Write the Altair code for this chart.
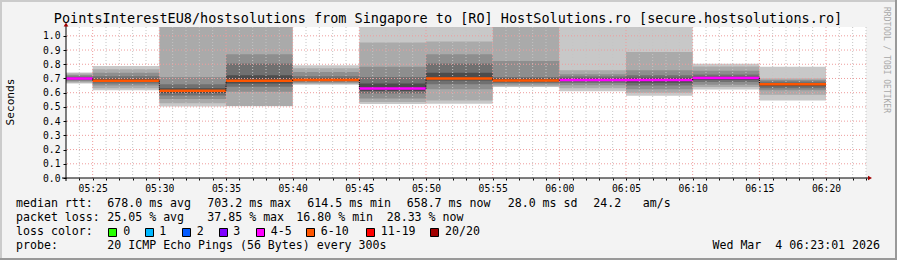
import altair as alt
import pandas as pd

# ---------------- data ----------------
# sample end times in minutes since midnight: 05:25 ... 06:20 (each covers the preceding 5 min)
times = [325, 330, 335, 340, 345, 350, 355, 360, 365, 370, 375, 380]
median = [0.700, 0.684, 0.614, 0.684, 0.690, 0.629, 0.700, 0.686, 0.690, 0.690, 0.703, 0.659]
loss_color = ["#ff00ff", "#ff5500", "#ff5500", "#ff5500", "#ff5500", "#ff00ff",
              "#ff5500", "#ff5500", "#ff00ff", "#ff00ff", "#ff00ff", "#ff5500"]

# smoke bands, outer (light) to inner (dark); values in seconds
band_lo = [
    [0.665, 0.617, 0.502, 0.504, 0.655, 0.520, 0.523, 0.640, 0.610, 0.578, 0.622, 0.545],
    [0.672, 0.632, 0.525, 0.506, 0.662, 0.535, 0.545, 0.645, 0.632, 0.600, 0.640, 0.585],
    [0.680, 0.650, 0.555, 0.606, 0.670, 0.560, 0.625, 0.658, 0.652, 0.625, 0.655, 0.618],
    [0.688, 0.664, 0.580, 0.641, 0.678, 0.594, 0.660, 0.668, 0.668, 0.650, 0.675, 0.632],
    [0.694, 0.675, 0.598, 0.665, 0.684, 0.612, 0.685, 0.678, 0.680, 0.670, 0.690, 0.645],
]
band_hi = [
    [0.742, 0.787, 0.720, 1.200, 0.793, 1.200, 1.200, 1.200, 1.200, 1.200, 0.803, 0.782],
    [0.735, 0.765, 1.200, 1.200, 0.772, 0.953, 0.960, 1.200, 0.757, 0.887, 0.785, 0.700],
    [0.725, 0.740, 0.711, 0.871, 0.745, 0.782, 0.870, 0.822, 0.730, 0.757, 0.755, 0.690],
    [0.714, 0.715, 0.660, 0.805, 0.715, 0.711, 0.805, 0.711, 0.714, 0.723, 0.728, 0.678],
    [0.707, 0.698, 0.632, 0.723, 0.700, 0.665, 0.740, 0.700, 0.702, 0.705, 0.712, 0.668],
]
band_shade = ["#c8c8c8", "#aaaaaa", "#8e8e8e", "#707070", "#4c4c4c"]

y_ticks = [0.0, 0.1, 0.2, 0.3, 0.4, 0.5, 0.6, 0.7, 0.8, 0.9, 1.0]
x_minutes = list(range(324, 384))

title_text = "PointsInterestEU8/hostsolutions from Singapore to [RO] HostSolutions.ro [secure.hostsolutions.ro]"
legend_labels = ["0", "1", "2", "3", "4-5", "6-10", "11-19", "20/20"]
legend_colors = ["#26ff00", "#00b8ff", "#0059ff", "#7e00ff", "#ff00ff", "#ff5500", "#ff0000", "#a10000"]

# ---------------- layout ----------------
PL, PT, PW, PH = 66, 27, 800, 151
YMAX = 1.062
FONT = "DejaVu Sans Mono"
NB = "\u00a0"

xs = alt.Scale(domain=[323, 383], nice=False, zero=False)
ys = alt.Scale(domain=[0, YMAX], nice=False, zero=True)

label_expr = ("datum.value % 5 == 0 ? (format(floor(datum.value/60),'02d') + ':' + "
              "format(datum.value % 60,'02d')) : ''")
x_axis = alt.Axis(values=x_minutes, labelExpr=label_expr, title=None, domain=False, grid=False,
                  tickSize=2, tickColor="#000000", labelFont=FONT, labelFontSize=9.7,
                  labelColor="#000000", labelPadding=3, labelOverlap=False, labelFlush=False)
y_axis = alt.Axis(values=y_ticks, format=".1f", title=None, domain=False, grid=False,
                  tickSize=3, tickColor="#000000", labelFont=FONT, labelFontSize=9.7,
                  labelColor="#000000", labelPadding=3)


def vx(a):  # absolute pixel -> view pixel
    return a - PL


def vy(a):
    return a - PT


# smoke
rows = []
for lvl in range(len(band_lo)):
    for i, t in enumerate(times):
        rows.append(dict(x0=t - 5, x1=t, lo=band_lo[lvl][i], hi=band_hi[lvl][i],
                         c=band_shade[lvl], lvl=lvl))
smoke_df = pd.DataFrame(rows)

smoke = alt.Chart(smoke_df).mark_rect(clip=True).encode(
    x=alt.X("x0:Q", scale=xs, axis=x_axis), x2="x1:Q",
    y=alt.Y("lo:Q", scale=ys, axis=y_axis), y2="hi:Q",
    color=alt.Color("c:N", scale=None),
    order=alt.Order("lvl:Q"),
)

# grid
minor_df = pd.DataFrame({"m": [m for m in x_minutes if m % 5 != 0]})
major_df = pd.DataFrame({"m": [m for m in x_minutes if m % 5 == 0]})
hgrid_df = pd.DataFrame({"v": y_ticks[1:]})

vminor = alt.Chart(minor_df).mark_rule(color="#c4c4c4", strokeWidth=1, strokeDash=[1, 2]).encode(
    x=alt.X("m:Q", scale=xs, axis=x_axis))
vmajor = alt.Chart(major_df).mark_rule(color="#ee9c9c", strokeWidth=1, strokeDash=[1, 2]).encode(
    x=alt.X("m:Q", scale=xs, axis=x_axis))
hgrid = alt.Chart(hgrid_df).mark_rule(color="#ee9c9c", strokeWidth=1, strokeDash=[1, 2]).encode(
    y=alt.Y("v:Q", scale=ys, axis=y_axis))

# median
med_df = pd.DataFrame({"x0": [t - 5 for t in times], "x1": times, "m": median, "c": loss_color})
med = alt.Chart(med_df).mark_rule(strokeWidth=2.5, clip=True).encode(
    x=alt.X("x0:Q", scale=xs, axis=x_axis), x2="x1:Q",
    y=alt.Y("m:Q", scale=ys, axis=y_axis),
    color=alt.Color("c:N", scale=None))

join_df = pd.DataFrame({"t": times[:-1], "a": median[:-1], "b": median[1:]})
joins = alt.Chart(join_df).mark_rule(color="#000000", strokeWidth=1, strokeDash=[1, 1]).encode(
    x=alt.X("t:Q", scale=xs, axis=x_axis),
    y=alt.Y("a:Q", scale=ys, axis=y_axis), y2="b:Q")

# axis lines + arrows
axl_df = pd.DataFrame({"x": [vx(62), vx(66)], "x2": [vx(868), vx(66)],
                       "y": [vy(178), vy(181)], "y2": [vy(178), vy(25)]})
axlines = alt.Chart(axl_df).mark_rule(color="#000000", strokeWidth=1).encode(
    x=alt.X("x:Q", scale=None, axis=None), x2="x2:Q",
    y=alt.Y("y:Q", scale=None, axis=None), y2="y2:Q")

arr_up = alt.Chart(pd.DataFrame({"x": [vx(66)], "y": [vy(24.5)]})).mark_point(
    shape="triangle-up", filled=True, size=22, color="#a00000", opacity=1).encode(
    x=alt.X("x:Q", scale=None, axis=None), y=alt.Y("y:Q", scale=None, axis=None))
arr_rt = alt.Chart(pd.DataFrame({"x": [vx(870)], "y": [vy(178)]})).mark_point(
    shape="triangle-right", filled=True, size=22, color="#a00000", opacity=1).encode(
    x=alt.X("x:Q", scale=None, axis=None), y=alt.Y("y:Q", scale=None, axis=None))

# frame (rrdtool 3D border)
frame_df = pd.DataFrame({
    "x": [vx(0), vx(0), vx(0), vx(895)],
    "x2": [vx(897), vx(2), vx(897), vx(897)],
    "y": [vy(0), vy(0), vy(258), vy(0)],
    "y2": [vy(2), vy(260), vy(260), vy(260)],
    "c": ["#cbcbcb", "#cbcbcb", "#999999", "#999999"],
})
frame = alt.Chart(frame_df).mark_rect().encode(
    x=alt.X("x:Q", scale=None, axis=None), x2="x2:Q",
    y=alt.Y("y:Q", scale=None, axis=None), y2="y2:Q",
    color=alt.Color("c:N", scale=None))


def text_layer(df, **kw):
    return alt.Chart(df).mark_text(font=FONT, baseline="middle", **kw).encode(
        x=alt.X("x:Q", scale=None, axis=None),
        y=alt.Y("y:Q", scale=None, axis=None),
        text="t:N")


title = text_layer(pd.DataFrame({"x": [vx(448)], "y": [vy(18.5)], "t": [title_text]}),
                   align="center", fontSize=13.5, color="#000000")

ytitle = text_layer(pd.DataFrame({"x": [vx(10.5)], "y": [vy(102)], "t": ["Seconds"]}),
                    align="center", fontSize=11.2, color="#000000", angle=270)

rrd = text_layer(pd.DataFrame({"x": [vx(886)], "y": [vy(60)], "t": ["RRDTOOL / TOBI OETIKER"]}),
                 align="center", fontSize=8, color="#a8a8a8", angle=90)

leg_items = [
    (16, 204, "median rtt:"), (107.3, 204, "678.0 ms avg"), (207.3, 204, "703.2 ms max"),
    (307.3, 204, "614.5 ms min"), (406.7, 204, "658.7 ms now"), (507.7, 204, "28.0 ms sd"),
    (593.3, 204, "24.2"), (642.7, 204, "am/s"),
    (16, 218, "packet loss:"), (107.3, 218, "25.05 % avg"), (207.3, 218, "37.85 % max"),
    (296.3, 218, "16.80 % min"), (386.7, 218, "28.33 % now"),
    (16, 232, "loss color:"),
    (16, 246, "probe:"), (107.3, 246, "20 ICMP Echo Pings (56 Bytes) every 300s"),
]
box_x = [108.5, 145.5, 182.5, 219.5, 256.5, 306.5, 366.5, 430.5]
lab_x = [123.3, 159.3, 196.7, 233.3, 270.7, 320.7, 380.7, 445.0]
for lx, lab in zip(lab_x, legend_labels):
    leg_items.append((lx, 232, lab))

leg_df = pd.DataFrame({"x": [vx(a) for a, _, _ in leg_items],
                       "y": [vy(b) for _, b, _ in leg_items],
                       "t": [c for _, _, c in leg_items]})
legend_text = text_layer(leg_df, align="left", fontSize=11.6, color="#000000")

date_text = text_layer(pd.DataFrame({"x": [vx(880)], "y": [vy(246)],
                                     "t": ["Wed Mar" + NB + NB + "4 06:23:01 2026"]}),
                       align="right", fontSize=11.6, color="#000000")

box_df = pd.DataFrame({"x": [vx(a) for a in box_x], "x2": [vx(a + 8) for a in box_x],
                       "y": [vy(228.5)] * 8, "y2": [vy(236.5)] * 8, "c": legend_colors})
boxes = alt.Chart(box_df).mark_rect(stroke="#000000", strokeWidth=1).encode(
    x=alt.X("x:Q", scale=None, axis=None), x2="x2:Q",
    y=alt.Y("y:Q", scale=None, axis=None), y2="y2:Q",
    color=alt.Color("c:N", scale=None))

chart = alt.layer(
    smoke, vminor, vmajor, hgrid, med, joins, axlines, arr_up, arr_rt,
    frame, title, ytitle, rrd, legend_text, date_text, boxes,
).properties(
    width=PW, height=PH,
    padding={"left": PL, "top": PT, "right": 897 - PL - PW, "bottom": 260 - PT - PH},
    autosize=alt.AutoSizeParams(type="none"),
    background="#f3f3f3",
).configure_view(stroke=None, fill="#ffffff")

chart.save("out.html", embed_options={"renderer": "svg", "actions": False})
